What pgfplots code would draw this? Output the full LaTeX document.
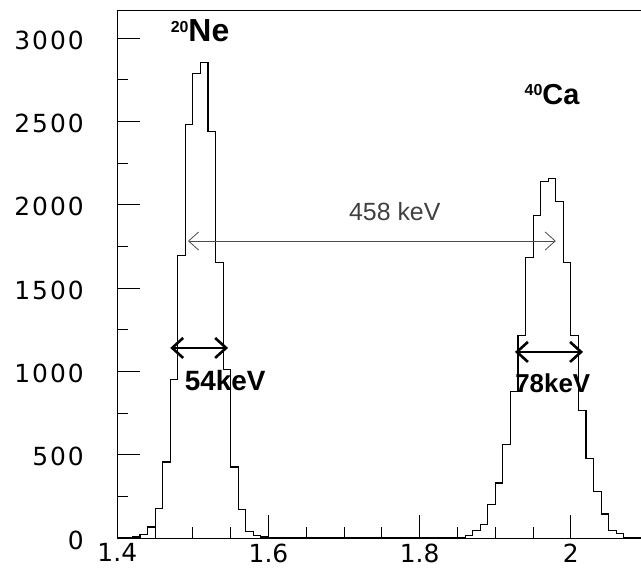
\documentclass[border=0pt]{standalone}
\usepackage{fontspec}
\usepackage{pgfplots}
\usepackage{pgfplotstable}
\pgfplotsset{compat=1.18}
\usetikzlibrary{arrows.meta}
\setmainfont{DejaVu Sans}
\newfontfamily\ytickfont[LetterSpace=8]{DejaVu Sans}
\newfontfamily\xtickfont{DejaVu Sans}
\newfontfamily\handfont{Liberation Sans}

\pgfplotstableread{
x y
1.40 0
1.41 2
1.42 6
1.43 20
1.44 66
1.45 177
1.46 456
1.47 953
1.48 1698
1.49 2483
1.50 2789
1.51 2855
1.52 2443
1.53 1654
1.54 1011
1.55 426
1.56 172
1.57 40
1.58 16
1.59 6
1.60 2
1.61 0
1.62 0
1.63 1
1.64 0
1.65 0
1.66 0
1.67 0
1.68 0
1.69 0
1.70 0
1.71 0
1.72 0
1.73 0
1.74 0
1.75 0
1.76 0
1.77 0
1.78 0
1.79 0
1.80 0
1.81 0
1.82 0
1.83 1
1.84 2
1.85 5
1.86 16
1.87 46
1.88 82
1.89 202
1.90 330
1.91 563
1.92 877
1.93 1217
1.94 1684
1.95 1934
1.96 2140
1.97 2160
1.98 2022
1.99 1652
2.00 1217
2.01 767
2.02 477
2.03 278
2.04 144
2.05 44
2.06 28
2.07 4
2.08 1
2.09 0
2.10 0
}\hist

\begin{document}
\begin{tikzpicture}
\begin{axis}[
  at={(0,0)}, anchor=south west,
  scale only axis, width=523.7bp, height=527.7bp,
  xmin=1.4, xmax=2.0927, ymin=0, ymax=3168,
  axis x line*=bottom, axis y line*=left,
  axis line style={line width=0.9bp, -},
  xtick={1.4,1.6,1.8,2.0}, xticklabels={1.4,1.6,1.8,2},
  minor x tick num=3,
  ytick={0,500,...,3000}, minor y tick num=1,
  tick align=inside,
  major tick length=23bp, minor tick length=11bp,
  tick style={line width=0.9bp, black},
  scaled y ticks=false,
  /pgf/number format/1000 sep={},
  /pgf/number format/assume math mode=true,
  yticklabel style={font=\fontsize{25}{28}\selectfont\ytickfont, xshift=-30bp, yshift=-2bp},
  xticklabel style={font=\fontsize{25}{28}\selectfont\xtickfont, yshift=-2bp},
]
\draw[line width=0.9bp] (rel axis cs:0,1) -- (rel axis cs:1,1);
\addplot[const plot, black, line width=1.1bp] table[x=x, y=y] {\hist};

% annotations
\node[font=\handfont\bfseries\fontsize{32}{32}\selectfont] at (axis cs:1.5094,3045)
  {\raisebox{0.55ex}{\fontsize{16}{16}\selectfont 20}Ne};
\node[font=\handfont\bfseries\fontsize{29}{29}\selectfont] at (axis cs:1.975,2665)
  {\raisebox{0.55ex}{\fontsize{16}{16}\selectfont 40}Ca};
\node[font=\handfont\fontsize{25}{25}\selectfont, text=black!75] at (axis cs:1.767,1960) {458 keV};
\draw[{Straight Barb[length=10bp,width=18bp]}-{Straight Barb[length=10bp,width=18bp]}, black!70, line width=0.8bp]
  (axis cs:1.4935,1783) -- (axis cs:1.980,1783);
\draw[{Straight Barb[length=11bp,width=20bp]}-{Straight Barb[length=11bp,width=20bp]}, line width=2.6bp]
  (axis cs:1.470,1141) -- (axis cs:1.5465,1141);
\node[font=\handfont\bfseries\fontsize{28}{28}\selectfont] at (axis cs:1.5426,945) {54keV};
\draw[{Straight Barb[length=11bp,width=20bp]}-{Straight Barb[length=11bp,width=20bp]}, line width=2.6bp]
  (axis cs:1.926,1117) -- (axis cs:2.016,1117);
\node[font=\handfont\bfseries\fontsize{26}{26}\selectfont] at (axis cs:1.976,930) {78keV};
\end{axis}
\pgfresetboundingbox
\path (-117.3bp,-42bp) rectangle (523.7bp,538bp);
\end{tikzpicture}
\end{document}
